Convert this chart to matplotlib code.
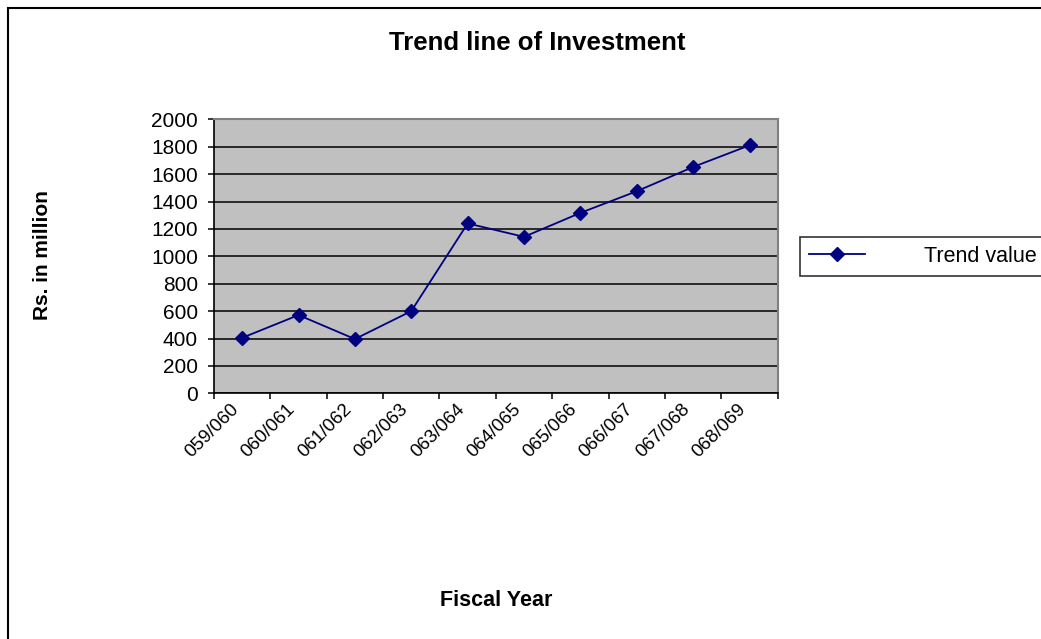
import numpy as np
import matplotlib
matplotlib.use("Agg")
from matplotlib import pyplot as plt
from matplotlib.patches import Rectangle

plt.rcParams['font.family'] = ['Liberation Sans', 'DejaVu Sans']

years = ['059/060', '060/061', '061/062', '062/063', '063/064',
         '064/065', '065/066', '066/067', '067/068', '068/069']
trend = [405, 571, 396, 600, 1240, 1142, 1317, 1475, 1652, 1810]
yticks = list(range(0, 2001, 200))

fig = plt.figure(figsize=(10.41, 6.39), dpi=100)
ax = fig.add_axes([214/1041, 1 - 393.3/639, (777.7 - 214)/1041, (393.3 - 119.3)/639])
ax.set_facecolor('#C0C0C0')

x = np.arange(len(years)) + 0.5
ax.plot(x, trend, color='#000080', linewidth=1.3, marker='D',
        markersize=7, markerfacecolor='#000080', markeredgecolor='#000080',
        label='Trend value', zorder=3)

ax.set_xlim(0, len(years))
ax.set_ylim(0, 2000)
ax.set_yticks(yticks)
ax.set_yticklabels([str(v) for v in yticks], fontsize=15)
ax.yaxis.grid(True, color='black', linewidth=1.1)
ax.set_axisbelow(True)

# category boundaries get the tick marks, centres get the labels
ax.set_xticks(np.arange(len(years) + 1))
ax.set_xticklabels([])
ax.set_xticks(x, minor=True)
ax.set_xticklabels(years, minor=True, rotation=45, ha='right', va='top',
                   fontsize=13.5)
ax.tick_params(axis='x', which='minor', length=0, pad=5)
ax.tick_params(axis='both', which='major', direction='out', length=4,
               width=1.1, color='black')
ax.tick_params(axis='y', pad=7.5)

for s in ['left', 'bottom']:
    ax.spines[s].set_color('black')
    ax.spines[s].set_linewidth(1.2)
for s in ['top', 'right']:
    ax.spines[s].set_color('#808080')
    ax.spines[s].set_linewidth(1.5)

fig.text(537/1041, 1 - 43/639, 'Trend line of Investment',
         fontsize=18.5, fontweight='bold', ha='center', va='center')
fig.text(42/1041, 1 - 255/639, 'Rs. in million', rotation=90,
         fontsize=15, fontweight='bold', ha='center', va='center')
fig.text(496/1041, 1 - 600/639, 'Fiscal Year',
         fontsize=15.5, fontweight='bold', ha='center', va='center')

leg = fig.legend(loc='center left', bbox_to_anchor=(800/1041, 1 - 256.5/639),
                 bbox_transform=fig.transFigure, fontsize=15.5, frameon=True,
                 fancybox=False, handlelength=2.6, handletextpad=2.75,
                 borderaxespad=0, borderpad=0.42)
leg.get_frame().set_edgecolor('black')
leg.get_frame().set_linewidth(1.2)

# outer chart frame, running off the right and bottom edges
fig.patches.append(Rectangle((7.5/1041, -0.05), 1.1, 1 - 7.5/639 + 0.05,
                             transform=fig.transFigure, fill=False,
                             edgecolor='black', linewidth=1.5, clip_on=False))

fig.savefig('out.png', dpi=100)
